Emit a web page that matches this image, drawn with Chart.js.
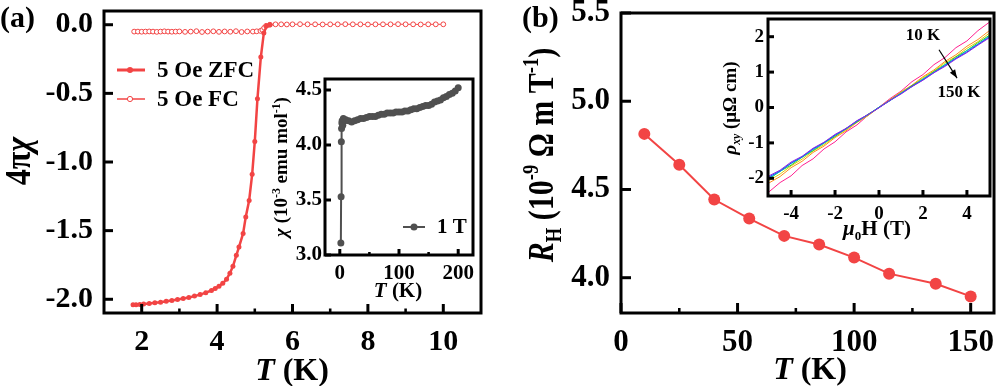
<!DOCTYPE html>
<html>
<head>
<meta charset="utf-8">
<script src="https://cdn.jsdelivr.net/npm/chart.js@4.4.0/dist/chart.umd.min.js"></script>
<style>
  body { margin: 0; background: #fff; width: 1000px; height: 386px; overflow: hidden; position: relative; }
  canvas { position: absolute; }
  .lbl { position: absolute; font: bold 30px "Liberation Serif", serif; line-height: 30px; }
</style>
</head>
<body>
<canvas id="aMain" width="500" height="386" style="left:0px;top:0px"></canvas>
<canvas id="aInset" width="220" height="240" style="left:265px;top:70px"></canvas>
<canvas id="bMain" width="500" height="386" style="left:500px;top:0px"></canvas>
<canvas id="bInset" width="298" height="235" style="left:700px;top:10px"></canvas>
<div class="lbl" style="left:0px;top:2px">(a)</div>
<div class="lbl" style="left:522px;top:2px">(b)</div>
<script>
// panel (a): 4πχ vs T, 5 Oe
const zfcT   = [1.77,1.85,1.95,2.05,2.2,2.35,2.5,2.65,2.8,2.95,3.1,3.25,3.4,3.55,3.7,3.85,3.95,4.05,4.15,4.25,4.34,4.42,4.51,4.58,4.69,4.76,4.85,4.93,5.0,5.07,5.16,5.24,5.31,5.4];
const zfcChi = [-2.04,-2.04,-2.038,-2.035,-2.03,-2.026,-2.021,-2.015,-2.009,-2.002,-1.995,-1.987,-1.977,-1.966,-1.952,-1.936,-1.922,-1.905,-1.884,-1.855,-1.81,-1.76,-1.68,-1.62,-1.52,-1.40,-1.28,-1.09,-0.85,-0.54,-0.236,-0.06,-0.01,0.0];
const fcT   = [1.8,1.9,2.0,2.1,2.2,2.3,2.4,2.5,2.6,2.7,2.8,2.9,3.0,3.15,3.3,3.45,3.6,3.75,3.9,4.05,4.2,4.35,4.5,4.65,4.8,4.95,5.05,5.15,5.2,5.25,5.3,5.4,5.55,5.7,5.85,6.0,6.2,6.4,6.6,6.8,7.0,7.2,7.4,7.6,7.8,8.0,8.2,8.4,8.6,8.8,9.0,9.2,9.4,9.6,9.8,10.0];
const fcChi = [-0.05,-0.05,-0.051,-0.05,-0.049,-0.05,-0.052,-0.05,-0.048,-0.05,-0.051,-0.05,-0.049,-0.052,-0.05,-0.047,-0.053,-0.05,-0.048,-0.052,-0.049,-0.051,-0.047,-0.053,-0.049,-0.05,-0.048,-0.045,-0.038,-0.022,-0.008,0.0,
               0.003,0.003,0.002,0.003,0.004,0.003,0.003,0.002,0.003,0.003,0.004,0.003,0.003,0.002,0.003,0.003,0.003,0.004,0.003,0.003,0.002,0.003,0.003,0.003];
const aXTicks = [2, 4, 6, 8, 10];
const aXMinor = [3, 5, 7, 9];
const aYTicks = [-2.0, -1.5, -1.0, -0.5, 0.0];

// inset (a): χ vs T at 1 T
const insT   = [1.8,2.2,2.6,3,3.5,4,5,6,8,10,15,20,25,30,35,40,45,50,55,60,65,70,75,80,85,90,95,100,105,110,115,120,125,130,135,140,145,150,155,160,165,170,175,180,185,190,195,200];
const insChi = [3.11,3.53,4.03,4.15,4.2,4.22,4.18,4.24,4.22,4.23,4.22,4.21,4.22,4.23,4.24,4.24,4.25,4.26,4.26,4.26,4.27,4.28,4.28,4.29,4.29,4.29,4.30,4.30,4.30,4.31,4.31,4.32,4.33,4.33,4.34,4.35,4.36,4.36,4.37,4.39,4.40,4.41,4.43,4.44,4.46,4.47,4.49,4.52];
const insXTicks = [0, 100, 200];
const insXMinor = [50, 150];
const insYTicks = [3.0, 3.5, 4.0, 4.5];

// panel (b): Hall coefficient
const hallT  = [10, 25, 40, 55, 70, 85, 100, 115, 135, 150];
const hallRH = [4.815, 4.64, 4.443, 4.335, 4.237, 4.188, 4.114, 4.023, 3.966, 3.894];
const bXTicks = [0, 50, 100, 150];
const bXMinor = [25, 75, 125];
const bYTicks = [4.0, 4.5, 5.0, 5.5];

// inset (b): ρxy vs μ0H, 10 K ... 150 K
const fieldH = [-5,-4.5,-4,-3.5,-3,-2.5,-2,-1.5,-1,-0.5,0,0.5,1,1.5,2,2.5,3,3.5,4,4.5,5];
const rho1 = [-2.38,-2.12,-1.93,-1.64,-1.45,-1.17,-0.97,-0.69,-0.49,-0.22,0.01,0.25,0.46,0.73,0.93,1.21,1.41,1.69,1.88,2.17,2.40];
const rho2 = [-2.13,-1.95,-1.70,-1.52,-1.27,-1.09,-0.85,-0.66,-0.42,-0.23,0.00,0.22,0.44,0.63,0.87,1.06,1.30,1.49,1.73,1.92,2.16];
const rho3 = [-2.06,-1.88,-1.65,-1.46,-1.23,-1.05,-0.82,-0.63,-0.40,-0.22,0.01,0.20,0.43,0.61,0.84,1.03,1.26,1.44,1.67,1.86,2.09];
const rho4 = [-2.02,-1.80,-1.63,-1.40,-1.22,-1.00,-0.82,-0.59,-0.41,-0.19,0.00,0.21,0.40,0.62,0.80,1.02,1.21,1.43,1.61,1.83,2.03];
const rho5 = [-1.99,-1.81,-1.58,-1.41,-1.19,-1.01,-0.79,-0.61,-0.39,-0.21,0.01,0.19,0.41,0.59,0.81,0.99,1.21,1.39,1.61,1.79,2.01];
const rho6 = [-1.96,-1.79,-1.57,-1.39,-1.17,-0.99,-0.78,-0.60,-0.38,-0.20,0.00,0.20,0.39,0.60,0.78,0.99,1.18,1.39,1.57,1.78,1.98];
const rho7 = [-1.93,-1.77,-1.54,-1.38,-1.15,-0.98,-0.76,-0.59,-0.37,-0.20,-0.01,0.20,0.38,0.59,0.77,0.98,1.16,1.37,1.55,1.76,1.96];
const rhoColors = ['#ff1f8f', '#ff8c1a', '#e0d000', '#30c830', '#00c8c8', '#2040ff', '#8a2be2'];
const inbXTicks = [-4, -2, 0, 2, 4];
const inbYTicks = [-2, -1, 0, 1, 2];

const RED = '#f24444';
const FONT = 'Liberation Serif';
Chart.defaults.font.family = FONT;

function pts(xs, ys) { return xs.map((x, i) => ({ x: x, y: ys[i] })); }

function axis(min, max, ticks, fmt, size, pad, fit, horiz) {
    return {
        type: 'linear', min: min, max: max,
        grid: { display: false, drawTicks: false },
        border: { display: false },
        ticks: {
            color: '#000', padding: pad, autoSkip: false, maxRotation: 0,
            font: { family: FONT, weight: 'bold', size: size },
            callback: fmt
        },
        afterBuildTicks: s => { s.ticks = ticks.map(v => ({ value: v })); },
        afterFit: s => {
            if (horiz) s.height = fit; else s.width = fit;
            // keep edge labels from pushing the plot area in
            s.paddingTop = 0; s.paddingBottom = 0; s.paddingLeft = 0; s.paddingRight = 0;
        }
    };
}

// text with italic / sub / sup pieces, centred at (x, y); k widens glyphs across the line
function rich(ctx, segs, size, x, y, rot, k) {
    ctx.save();
    ctx.translate(x, y);
    if (rot) ctx.rotate(-Math.PI / 2);
    if (k) ctx.scale(1, k);
    ctx.fillStyle = '#000';
    ctx.textBaseline = 'alphabetic';
    ctx.textAlign = 'left';
    const fontOf = s => (s.i ? 'italic ' : '') + 'bold ' + ((s.sub || s.sup) ? size * 0.62 : size) + 'px "' + FONT + '"';
    let w = 0;
    const widths = segs.map(s => { ctx.font = fontOf(s); const m = ctx.measureText(s.t).width; w += m; return m; });
    let cx = -w / 2;
    segs.forEach((s, i) => {
        ctx.font = fontOf(s);
        const dy = s.sup ? -size * 0.4 : s.sub ? size * 0.22 : 0;
        ctx.fillText(s.t, cx, size * 0.33 + dy);
        cx += widths[i];
    });
    ctx.restore();
}

// frame, inward ticks, titles and any extras
function deco(o) {
    return {
        id: 'deco',
        afterDraw(chart) {
            const ctx = chart.ctx, a = chart.chartArea;
            const sx = chart.scales.x, sy = chart.scales.y;
            ctx.save();
            ctx.strokeStyle = '#000';
            ctx.lineCap = 'butt';
            const tick = (vals, len, lw, horiz) => {
                ctx.lineWidth = lw;
                vals.forEach(v => {
                    ctx.beginPath();
                    if (horiz) { const p = sx.getPixelForValue(v); ctx.moveTo(p, a.bottom); ctx.lineTo(p, a.bottom - len); }
                    else { const p = sy.getPixelForValue(v); ctx.moveTo(a.left, p); ctx.lineTo(a.left + len, p); }
                    ctx.stroke();
                });
            };
            tick(o.xMajor, o.len, o.tw, true);
            tick(o.xMinor || [], o.len / 2, o.tw * 0.85, true);
            tick(o.yMajor, o.len, o.tw, false);
            ctx.lineWidth = o.frame;
            ctx.strokeRect(a.left, a.top, a.right - a.left, a.bottom - a.top);
            ctx.restore();
            rich(ctx, o.xTitle.segs, o.xTitle.size, o.xTitle.x, o.xTitle.y, false);
            rich(ctx, o.yTitle.segs, o.yTitle.size, o.yTitle.x, o.yTitle.y, true, o.yTitle.k);
            if (o.extra) o.extra(chart, ctx);
        }
    };
}

function baseOpts(pad, scales) {
    return {
        responsive: false, animation: false, devicePixelRatio: 1,
        layout: { padding: pad },
        plugins: { legend: { display: false }, tooltip: { enabled: false } },
        scales: scales
    };
}

const fix1 = v => v.toFixed(1);
const int0 = v => String(v);

// ---------- (a) main ----------
new Chart(document.getElementById('aMain'), {
    type: 'scatter',
    data: {
        datasets: [
            { data: pts(zfcT, zfcChi), showLine: true, borderColor: RED, backgroundColor: RED, borderWidth: 2.5, pointRadius: 2.5, pointBorderWidth: 0 },
            { data: pts(fcT, fcChi), showLine: true, borderColor: RED, backgroundColor: '#fff', borderWidth: 1, pointRadius: 2.4, pointBorderWidth: 1 }
        ]
    },
    options: baseOpts({ left: 0, right: 19, top: 11, bottom: 0 }, {
        x: axis(1, 11, aXTicks, int0, 30, 11, 73, true),
        y: axis(-2.1, 0.1, aYTicks, fix1, 30, 11, 104, false)
    }),
    plugins: [deco({
        xMajor: aXTicks, xMinor: aXMinor, yMajor: aYTicks, len: 9, tw: 3, frame: 3,
        xTitle: { segs: [{ t: 'T', i: true }, { t: ' (K)' }], size: 32, x: 292, y: 369 },
        yTitle: { segs: [{ t: '4π' }, { t: 'χ', i: true }], size: 32, x: 18, y: 161, k: 1.1 },
        extra: (chart, ctx) => {
            ctx.save();
            ctx.strokeStyle = RED; ctx.fillStyle = RED;
            ctx.lineWidth = 3;
            ctx.beginPath(); ctx.moveTo(117, 70); ctx.lineTo(145, 70); ctx.stroke();
            ctx.beginPath(); ctx.arc(130, 70, 3, 0, 2 * Math.PI); ctx.fill();
            ctx.lineWidth = 1.5;
            ctx.beginPath(); ctx.moveTo(117, 99); ctx.lineTo(145, 99); ctx.stroke();
            ctx.fillStyle = '#fff'; ctx.lineWidth = 1;
            ctx.beginPath(); ctx.arc(130, 99, 2.6, 0, 2 * Math.PI); ctx.fill(); ctx.stroke();
            ctx.fillStyle = '#000';
            ctx.font = 'bold 23px "' + FONT + '"';
            ctx.textBaseline = 'middle';
            ctx.fillText('5 Oe ZFC', 157, 71);
            ctx.fillText('5 Oe FC', 157, 100);
            ctx.restore();
        }
    })]
});

// ---------- (a) inset ----------
new Chart(document.getElementById('aInset'), {
    type: 'scatter',
    data: {
        datasets: [
            { data: pts(insT, insChi), showLine: true, borderColor: '#505050', backgroundColor: '#505050', borderWidth: 2, pointRadius: 3.5, pointBorderWidth: 0 }
        ]
    },
    options: baseOpts({ left: 0, right: 12, top: 9, bottom: 0 }, {
        x: axis(-25, 225, insXTicks, int0, 21, 6, 55, true),
        y: axis(3.0, 4.6, insYTicks, fix1, 21, 3, 60, false)
    }),
    plugins: [deco({
        xMajor: insXTicks, xMinor: insXMinor, yMajor: insYTicks, len: 6, tw: 3, frame: 3,
        xTitle: { segs: [{ t: 'T', i: true }, { t: ' (K)' }], size: 21, x: 133, y: 220 },
        yTitle: { segs: [{ t: 'χ', i: true }, { t: ' (10' }, { t: '-3', sup: true }, { t: ' emu mol' }, { t: '-1', sup: true }, { t: ')' }], size: 19, x: 16, y: 97 },
        extra: (chart, ctx) => {
            ctx.save();
            ctx.strokeStyle = '#505050'; ctx.fillStyle = '#505050';
            ctx.lineWidth = 2;
            ctx.beginPath(); ctx.moveTo(138, 157); ctx.lineTo(160, 157); ctx.stroke();
            ctx.beginPath(); ctx.arc(149, 157, 3.5, 0, 2 * Math.PI); ctx.fill();
            ctx.fillStyle = '#000';
            ctx.font = 'bold 21px "' + FONT + '"';
            ctx.textBaseline = 'middle';
            ctx.fillText('1 T', 172, 158);
            ctx.restore();
        }
    })]
});

// ---------- (b) main ----------
new Chart(document.getElementById('bMain'), {
    type: 'scatter',
    data: {
        datasets: [
            { data: pts(hallT, hallRH), showLine: true, borderColor: RED, backgroundColor: RED, borderWidth: 2, pointRadius: 6, pointBorderWidth: 0 }
        ]
    },
    options: baseOpts({ left: 0, right: 3, top: 13, bottom: 0 }, {
        x: axis(0, 160, bXTicks, int0, 31, 11, 73, true),
        y: axis(3.8, 5.5, bYTicks, fix1, 31, 11, 121, false)
    }),
    plugins: [deco({
        xMajor: bXTicks, xMinor: bXMinor, yMajor: bYTicks, len: 10, tw: 3, frame: 3,
        xTitle: { segs: [{ t: 'T', i: true }, { t: ' (K)' }], size: 32, x: 310, y: 368 },
        yTitle: { segs: [{ t: 'R', i: true }, { t: 'H', sub: true }, { t: ' (10' }, { t: '-9', sup: true }, { t: ' Ω m T' }, { t: '-1', sup: true }, { t: ')' }], size: 30, x: 41, y: 155, k: 1.2 }
    })]
});

// ---------- (b) inset ----------
const rhoSets = [rho7, rho6, rho5, rho4, rho3, rho2, rho1];
const rhoCols = [rhoColors[6], rhoColors[5], rhoColors[4], rhoColors[3], rhoColors[2], rhoColors[1], rhoColors[0]];
new Chart(document.getElementById('bInset'), {
    type: 'scatter',
    data: {
        datasets: rhoSets.map((r, i) => ({
            data: pts(fieldH, r), showLine: true, borderColor: rhoCols[i], borderWidth: 1, pointRadius: 0
        }))
    },
    options: baseOpts({ left: 0, right: 8, top: 9, bottom: 0 }, {
        x: axis(-5.05, 5.05, inbXTicks, int0, 19, 7, 49, true),
        y: axis(-2.5, 2.5, inbYTicks, int0, 19, 4, 68, false)
    }),
    plugins: [deco({
        xMajor: inbXTicks, yMajor: inbYTicks, len: 6, tw: 3, frame: 3,
        xTitle: { segs: [{ t: 'μ', i: true }, { t: '0', sub: true }, { t: 'H (T)' }], size: 21, x: 177, y: 218 },
        yTitle: { segs: [{ t: 'ρ', i: true }, { t: 'xy', i: true, sub: true }, { t: ' (μΩ cm)' }], size: 19, x: 30, y: 98 },
        extra: (chart, ctx) => {
            const sx = chart.scales.x, sy = chart.scales.y;
            ctx.save();
            ctx.fillStyle = '#000'; ctx.strokeStyle = '#000';
            ctx.font = 'bold 17px "' + FONT + '"';
            ctx.textAlign = 'center'; ctx.textBaseline = 'middle';
            ctx.fillText('10 K', sx.getPixelForValue(2.0), sy.getPixelForValue(2.03));
            ctx.fillText('150 K', sx.getPixelForValue(3.64), sy.getPixelForValue(0.42));
            const x1 = sx.getPixelForValue(2.73), y1 = sy.getPixelForValue(1.63);
            const x2 = sx.getPixelForValue(3.55), y2 = sy.getPixelForValue(0.83);
            ctx.lineWidth = 1.2;
            ctx.beginPath(); ctx.moveTo(x1, y1); ctx.lineTo(x2, y2); ctx.stroke();
            const ang = Math.atan2(y2 - y1, x2 - x1);
            ctx.beginPath();
            ctx.moveTo(x2, y2);
            ctx.lineTo(x2 - 9 * Math.cos(ang - 0.35), y2 - 9 * Math.sin(ang - 0.35));
            ctx.lineTo(x2 - 9 * Math.cos(ang + 0.35), y2 - 9 * Math.sin(ang + 0.35));
            ctx.closePath(); ctx.fill();
            ctx.restore();
        }
    })]
});
</script>
</body>
</html>
